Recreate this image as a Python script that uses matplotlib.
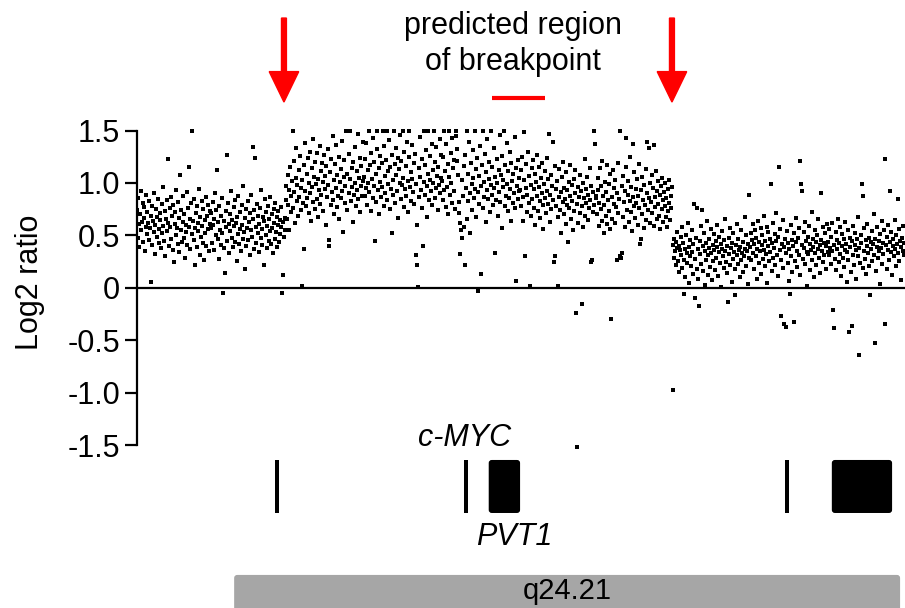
import numpy as np
import matplotlib
matplotlib.use("Agg")
import matplotlib.pyplot as plt
from matplotlib.patches import Rectangle, FancyBboxPatch

plt.rcParams['font.family'] = ['Liberation Sans', 'DejaVu Sans']

# log2 ratio per probe, in genomic order (left to right)
seg1a = [0.74, 0.48, 0.86, 0.61, 0.39, 0.70, 0.92, 0.55, 0.63, 0.81, 0.44, 0.67, 0.77, 0.35, 0.58, 0.89, 0.51, 0.72, 0.62, 0.46,
         0.83, 0.57, 0.69, 0.06, 0.41, 0.78, 0.64, 0.53, 0.90, 0.60, 0.32, 0.75, 0.49, 0.68, 0.85, 0.56, 0.43, 0.71, 0.65, 0.38,
         0.80, 0.52, 0.96, 0.59, 0.45, 0.73, 0.30, 0.66, 0.84, 0.54, 1.23, 0.62, 0.40, 0.76, 0.58, 0.87, 0.47, 0.69, 0.36, 0.79,
         0.25, 0.61, 0.72, 0.50, 0.93, 0.57, 0.42, 0.82, 0.34, 0.67, 1.08, 0.55, 0.74, 0.44, 0.88, 0.63, 0.48, 0.70, 0.29, 0.60,
         0.53, 0.91, 0.41, 0.76, 0.58, 1.15, 0.37, 0.66, 0.81, 0.51, 1.50, 0.64, 0.46, 0.85, 0.57, 0.22, 0.71, 0.39, 0.78, 0.54,
         0.62, 0.94, 0.31, 0.68, 0.49, 0.83, 0.59, 0.43, 0.75, 0.27, 0.65, 0.52, 0.87, 0.40, 0.69, 0.56, 0.79, 0.35, 0.61, 0.73]
seg1b = [0.57, 0.71, 0.43, 0.82, 0.60, 0.36, 0.66, 0.90, 0.50, 0.74, 1.12, 0.47, 0.63, 0.28, 0.78, 0.55, 0.41, 0.69, 0.86, 0.52,
         -0.05, 0.64, 0.38, 0.14, 0.73, 0.58, 1.27, 0.45, 0.81, 0.61, 0.33, 0.70, 0.54, 0.92, 0.48, 0.65, 0.39, 0.77, 0.59, 0.44,
         0.84, 0.62, 0.26, 0.68, 0.51, 0.88, 0.42, 0.72, 0.56, 0.35, 0.79, 0.60, 0.47, 0.97, 0.53, 0.18, 0.67, 0.40, 0.75, 0.57,
         0.83, 0.46, 0.63, 0.31, 0.71, 0.55, 0.89, 0.49, 1.34, 0.66, 0.37, 0.74, 1.24, 0.58, 0.43, 0.80, 0.52, 0.69, 0.34, 0.61,
         0.76, 0.48, 0.93, 0.56, 0.41, 0.68, 0.22, 0.64, 0.85, 0.50, 0.72, 0.38, 0.59, 0.78, 0.45, 0.66, 0.54, 0.87, 0.42, 0.70,
         0.57, 0.33, 0.75, 0.62, 0.47, 0.81, 0.53, 0.68, 0.39, 0.60, 0.73, 0.44, 0.65, 0.51, 0.77, 0.58, -0.05, 0.12, 0.63, 0.49,
         0.67, 0.55]
seg2a = [0.84, 0.97, 0.66, 1.08, 0.79, 0.55, 0.93, 1.15, 0.72, 0.88, 1.02, 1.50, 0.76, 1.21, 0.91, 0.62, 1.05, 1.33, 0.83, 0.98,
         0.69, 1.12, 0.87, 1.26, 0.95, 0.74, 0.02, 1.03, 0.81, 1.17, 0.37, 0.92, 1.38, 0.78, 1.09, 0.86, 1.24, 0.71, 1.00, 1.30,
         0.90, 0.64, 1.14, 0.96, 1.42, 0.82, 1.06, 0.75, 1.20, 0.99, 0.85, 1.29, 0.68, 1.04, 0.93, 1.35, 0.80, 1.11, 0.89, 1.19,
         1.01, 0.73, 1.27, 0.94, 1.07, 0.60, 1.16, 0.87, 1.32, 0.98, 0.46, 0.40, 1.10, 0.79, 1.23, 0.91, 1.45, 0.84, 1.03, 0.70,
         1.18, 0.95, 1.36, 0.77, 1.08, 0.88, 1.25, 0.66, 1.01, 1.13, 0.86, 1.40, 0.92, 0.53, 1.06, 1.22, 0.81, 0.97, 1.50, 1.09,
         0.74, 1.50, 0.90, 1.28, 1.04, 1.50, 0.83, 1.14, 0.96, 0.63, 1.20, 0.89, 1.34, 1.00, 0.78, 1.11, 0.93, 1.47, 0.85, 1.05,
         0.72, 1.24, 0.97, 1.16, 0.88, 1.02, 1.39]
seg2b = [1.06, 0.88, 1.23, 0.95, 1.38, 0.79, 1.12, 1.00, 1.50, 0.91, 1.17, 0.73, 1.29, 1.04, 0.86, 1.43, 0.97, 1.20, 0.45, 1.09,
         0.82, 1.32, 1.50, 0.93, 1.14, 0.70, 1.26, 1.01, 0.87, 1.19, 0.96, 1.50, 0.78, 1.35, 1.07, 0.90, 1.22, 1.50, 0.84, 1.11,
         0.99, 1.41, 0.75, 1.15, 0.94, 0.52, 1.27, 1.03, 0.89, 1.50, 1.18, 0.81, 1.08, 1.33, 0.92, 1.24, 0.67, 1.13, 1.00, 1.46,
         0.85, 1.21, 0.98, 1.50, 1.05, 0.77, 1.30, 0.94, 1.16, 0.88, 1.39, 1.02, 0.72, 1.25, 1.50, 0.96, 1.10, 0.83, 1.36, 1.04,
         0.91, 1.19, 0.80, 1.28, 0.99, 0.31, 0.22, 0.60, 0.01, 1.14, 0.87, 1.44, 1.06, 0.93, 1.23, 0.76, 0.40, 1.50, 1.01, 1.17,
         0.89, 1.31, 0.97, 0.68, 1.09, 1.50, 0.84, 1.26, 1.03, 0.92, 1.37, 0.79, 1.12, 1.00, 1.50, 0.86, 1.20, 0.95, 1.34, 1.07,
         0.74, 1.15, 0.98, 1.42, 0.90, 1.05, 1.27]
seg2c = [1.02, 0.84, 1.25, 0.93, 1.50, 1.11, 0.77, 1.37, 0.96, 1.18, 0.70, 1.06, 1.50, 0.89, 1.29, 1.00, 0.81, 1.43, 1.14, 0.92,
         1.22, 0.75, 1.50, 1.45, 1.32, 1.21, 1.08, 0.82, 0.71, 0.32, 0.62, 0.55, 1.03, 0.48, 0.88, 1.16, 0.58, 0.22, 1.27, 0.95,
         0.66, 1.50, 0.83, 1.09, 1.39, 0.90, 0.52, 1.19, 0.99, 0.74, 1.31, 1.05, 0.86, 1.50, 0.94, 1.13, 0.68, 1.24, 0.91, -0.03,
         1.07, 0.80, 1.35, 0.13, 0.97, 1.17, 0.76, 1.50, 1.01, 0.87, 1.28, 0.63, 1.10, 0.93, 1.42, 0.85, 1.04, 1.20, 0.72, 0.98,
         1.50, 0.89, 1.15, 0.79, 1.33, 0.95, 1.06, 0.33, 0.84, 1.23, 1.00, 0.69, 1.12, 0.91, 1.46, 0.82, 1.08, 0.57, 1.26, 0.96,
         1.03, 1.50, 0.78, 1.17, 0.88, 1.38, 0.99, 0.73, 1.11, 0.86, 1.30, 0.94, 0.64, 1.19, 1.02, 0.81, 1.09, 0.90, 1.44, 0.76,
         1.14, 0.07, 0.97, 1.22, 0.85, 1.05, 0.92]
seg2d = [0.93, 1.12, 0.78, 1.25, 0.87, 0.64, 1.03, 1.49, 0.30, 0.95, 1.18, 0.72, 0.89, 1.30, 0.81, 1.07, 0.02, 0.98, 0.69, 1.14,
         0.85, 1.22, 0.76, 0.94, 1.09, 0.60, 1.01, 0.88, 1.27, 0.73, 0.96, 1.15, 0.83, 0.67, 1.05, 0.90, 1.19, 0.79, 0.56, 0.99,
         0.86, 1.11, 0.71, 0.92, 1.24, 0.80, 1.04, 1.47, 0.63, 0.89, 1.08, 0.75, 0.97, 0.84, 1.39, 0.25, 1.16, 0.30, 0.78, 0.94,
         1.02, 0.68, 0.02, 0.87, 1.13, 0.74, 0.91, 0.52, 1.06, 0.82, 1.20, 0.70, 0.95, 0.85, 0.61, 1.10, 0.79, 0.93, 0.44, 1.01,
         0.76, 0.88, 1.17, 0.66, 0.98, 0.83, 0.55, 1.04, 0.73, 0.90, 1.12, -0.24, -1.51, 0.80, 0.96, 0.62, 0.87, 1.08, 0.71, 0.92,
         -0.15, 0.78, 1.00, 0.58, 0.86, 1.23, 0.69, 0.94, 0.81, 1.06, 0.65, 0.89, 0.76, 1.14, 0.84, 0.97, 0.25, 0.27, 0.72, 0.91,
         0.79, 1.50, 1.37, 0.88]
seg2e = [0.86, 0.70, 1.05, 0.93, 0.59, 0.81, 1.14, 0.75, 0.97, 0.64, 1.21, 0.88, 0.52, 0.79, 1.01, 0.69, 0.91, 1.17, 0.61, 0.84,
         0.99, 0.73, 1.09, 0.56, -0.30, 0.87, 0.66, 1.12, 0.80, 0.95, 0.62, 1.03, 0.77, 0.90, 0.27, 1.19, 0.71, 0.85, 0.30, 1.50,
         0.29, 0.33, 0.97, 0.68, 1.07, 0.82, 0.58, 0.92, 1.15, 1.43, 0.74, 0.89, 1.02, 0.63, 0.83, 1.25, 0.72, 0.96, 0.54, 0.87,
         1.37, 0.78, 1.10, 0.67, 0.94, 0.81, 1.04, 0.60, 0.88, 1.18, 0.76, 0.42, 0.47, 0.93, 0.70, 1.06, 0.84, 0.57, 0.98, 0.79,
         1.13, 0.65, 0.90, 1.39, 0.74, 1.33, 0.86, 1.00, 0.62, 0.82, 1.08, 0.71, 0.95, 0.59, 1.36, 0.87, 0.77, 1.11, 0.66, 0.92,
         0.80, 1.02, 0.69, 0.89, 0.56, 0.97, 0.75, 1.05, 0.84, 0.63, 0.91, 0.78, 1.00, 0.68, 0.86, 0.58, 0.94, 0.73, 1.03, 0.81,
         0.65, 0.88, 0.76, 0.96, -0.97]
seg3a = [0.41, 0.29, 0.47, 0.35, 0.22, 0.44, 0.38, 0.53, 0.26, 0.40, 0.15, 0.36, 0.49, 0.31, 0.58, 0.19, 0.43, 0.27, -0.06, 0.37,
         0.10, 0.50, 0.33, 0.24, 0.62, 0.39, 0.05, 0.30, 0.46, 0.21, 0.55, 0.34, 0.13, 0.42, 0.80, 0.28, -0.10, 0.48, 0.18, 0.76,
         0.37, 0.09, -0.17, 0.45, 0.32, 0.59, 0.23, 0.74, 0.40, 0.16, 0.52, 0.35, 0.03, 0.43, 0.27, 0.64, 0.31, 0.12, 0.47, 0.38,
         0.20, 0.56, 0.33, 0.08, 0.41, 0.26, 0.51, 0.36, 0.17, 0.45, 0.29, 0.60, 0.39, 0.11, 0.34, 0.49, 0.24, 0.42, 0.01, 0.37,
         0.54, 0.30, 0.19, 0.46, 0.35, 0.66, 0.25, 0.40, 0.14, -0.13, 0.32, 0.48, 0.22, 0.57, 0.38, 0.06, 0.43, 0.28, 0.52, 0.34,
         0.18, -0.07, 0.41, 0.31, 0.61, 0.23, 0.47, 0.36, 0.10, 0.39, 0.27, 0.55, 0.33, 0.15, 0.44, 0.30, 0.68, 0.37, 0.21, 0.50,
         0.35, 0.04, 0.42, 0.29, 0.89]
seg3b = [0.39, 0.52, 0.27, 0.46, 0.33, 0.61, 0.18, 0.42, 0.55, 0.30, 0.48, 0.09, 0.37, 0.64, 0.24, 0.44, 0.35, 0.57, 0.13, 0.41,
         0.50, 0.28, 0.69, 0.36, 0.21, 0.45, 0.32, 0.58, 0.05, 0.40, 0.53, 0.26, 0.47, 0.34, 0.99, 0.16, 0.43, 0.62, 0.29, 0.38,
         0.51, 0.22, 0.45, 0.71, 0.31, 0.11, 0.49, 1.15, 0.36, 0.56, -0.27, 0.27, 0.42, 0.65, 0.19, 0.39, -0.34, 0.47, -0.37, 0.33,
         0.54, 0.24, 0.43, 0.07, 0.37, -0.06, 0.60, 0.30, 0.46, 0.15, 0.40, -0.32, 0.52, 0.26, 0.44, 0.67, 0.35, 0.20, 0.48, 0.31,
         0.57, 0.12, 1.21, 0.99, 0.92, 0.41, 0.28, 0.53, 0.38, 0.63, 0.23, 0.45, 0.34, 0.02, 0.49, 0.32, 0.59, 0.17, 0.42, 0.36,
         0.72, 0.27, 0.47, 0.39, 0.10, 0.55, 0.33, 0.44, 0.22, 0.50, 0.37, 0.66, 0.29, 0.41, 0.14, 0.46, 0.90, 0.35, 0.58, 0.25,
         0.43, 0.31, 0.52, 0.18, 0.40, 0.61, 0.34]
seg3c = [0.44, 0.31, 0.56, 0.38, 0.23, 0.49, 0.35, 0.62, -0.21, 0.41, -0.38, 0.28, 0.53, 0.17, 0.46, 0.37, 0.66, 0.25, 0.43, 0.32,
         0.58, 0.11, 0.40, 0.51, 0.29, 0.47, 0.20, 0.36, 0.63, 0.42, 0.06, 0.34, 0.55, 0.27, -0.42, 0.48, 0.39, 0.15, 0.45, -0.36,
         0.31, 0.59, 0.22, 0.41, 0.52, 0.36, 0.09, 0.47, 0.30, 0.68, -0.64, 0.38, 0.24, 0.50, 0.43, 0.99, 0.19, 0.88, 0.35, 0.57,
         0.28, 0.46, 0.13, 0.40, 0.61, 0.33, 0.48, 0.21, -0.07, 0.44, 0.37, 0.54, 0.26, 0.42, 0.70, 0.31, -0.52, 0.47, 0.16, 0.39,
         0.58, 0.29, 0.45, 0.35, 0.04, 0.51, 0.38, 0.64, 0.23, 0.43, 0.32, 0.55, 1.23, -0.34, 0.41, 0.18, 0.49, 0.36, 0.60, 0.27,
         0.44, 0.92, 0.34, 0.53, 0.12, 0.40, 0.47, 0.30, 0.65, 0.37, 0.21, 0.50, 0.42, 0.33, 0.85, 0.56, 0.26, 0.45, 0.39, 0.08,
         0.48, 0.35, 0.59, 0.31, 0.43]

# annotation track, positions in probe-index units
gene_lines = [228, 535, 1057]
gene_blocks = [(572, 623), (1130, 1228)]
gene_names = ["c-MYC", "PVT1"]
band_span = (158, 1241)
band_name = "q24.21"
arrow_pos = [239, 870]
breakpoint_span = (577, 663)
yticks = [1.5, 1.0, 0.5, 0, -0.5, -1.0, -1.5]
ytick_labels = ["1.5", "1.0", "0.5", "0", "-0.5", "-1.0", "-1.5"]

ratios = np.concatenate([seg1a, seg1b, seg2a, seg2b, seg2c, seg2d, seg2e, seg3a, seg3b, seg3c])
probe = np.arange(len(ratios))

fs = 22
fig = plt.figure(figsize=(9.05, 6.08), dpi=100)
ax = fig.add_axes([137/905, 0, 768/905, 1])
ax.set_xlim(0, len(ratios))
ax.set_ylim(-3.048, 2.743)

ax.scatter(probe, ratios, s=7, marker='s', c='black', linewidths=0, zorder=3)
ax.axhline(0, color='black', lw=1.6, zorder=2)

for s in ['top', 'right', 'bottom']:
    ax.spines[s].set_visible(False)
ax.spines['left'].set_linewidth(1.6)
ax.spines['left'].set_bounds(-1.5, 1.5)
ax.set_xticks([])
ax.set_yticks(yticks)
ax.set_yticklabels(ytick_labels, fontsize=fs)
ax.tick_params(axis='y', length=9, width=1.6, pad=3)
fig.text(30/905, 1 - 282/608, "Log2 ratio", rotation=90, fontsize=fs, ha='center', va='center')

# arrows and breakpoint region
for xp in arrow_pos:
    ax.arrow(xp, 2.571, 0, -0.80, width=8, head_width=48, head_length=0.29,
             length_includes_head=True, color='red', clip_on=False)
ax.plot(breakpoint_span, [1.805, 1.805], color='red', lw=3, solid_capstyle='butt')
ax.text(611, 2.50, "predicted region", fontsize=fs, ha='center', va='center')
ax.text(611, 2.15, "of breakpoint", fontsize=fs, ha='center', va='center')

# genes
for g in gene_lines:
    ax.add_patch(Rectangle((g - 3, -2.143), 6, 0.505, color='black', lw=0))
for a, b in gene_blocks:
    ax.add_patch(FancyBboxPatch((a, -2.143), b - a, 0.505,
                                boxstyle="round,pad=0,rounding_size=5",
                                mutation_aspect=0.0057, color='black', lw=0))
ax.text(532, -1.43, gene_names[0], fontsize=fs, style='italic', ha='center', va='center')
ax.text(613, -2.37, gene_names[1], fontsize=fs, style='italic', ha='center', va='center')

# cytoband
ax.add_patch(FancyBboxPatch((band_span[0], -3.3), band_span[1] - band_span[0], 0.567,
                            boxstyle="round,pad=0,rounding_size=5",
                            mutation_aspect=0.0057, color='#a6a6a6', lw=0))
ax.text(699, -2.885, band_name, fontsize=21, ha='center', va='center')

fig.savefig("out.png", dpi=100)
